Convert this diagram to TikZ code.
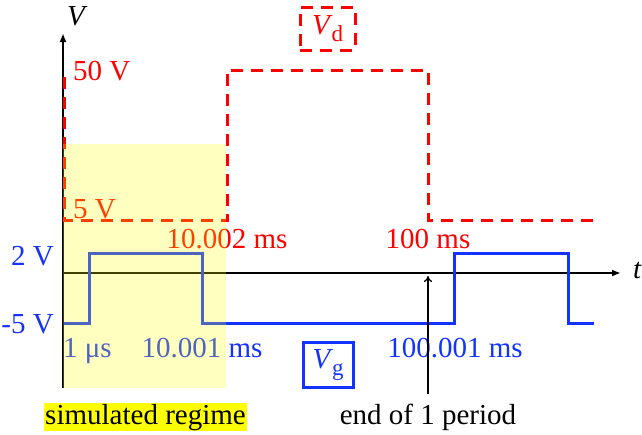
\documentclass[tikz,border=0pt]{standalone}
\usepackage{fontspec}
\setmainfont{Liberation Serif}
\usetikzlibrary{arrows.meta}
\definecolor{vred}{RGB}{255,0,0}
\definecolor{vblue}{RGB}{20,50,255}
\definecolor{hl}{RGB}{255,255,0}
\newcommand{\subtx}[1]{\raisebox{-7pt}{\fontsize{23}{24}\selectfont #1}}
\begin{document}
\begin{tikzpicture}[x=1pt,y=-1pt,
  font=\fontsize{29}{32}\selectfont,
  lbl/.style={inner sep=0pt, anchor=base},
  axisline/.style={line width=2pt, black, -{Latex[length=9pt,width=7pt]}},
  vdline/.style={line width=3pt, vred, dash pattern=on 12pt off 8pt},
  vgline/.style={line width=3pt, vblue},
  redlbl/.style={lbl, text=vred},
  bluelbl/.style={lbl, text=vblue}]
\useasboundingbox (0,0) rectangle (642,434);

% axes
\coordinate (o) at (63,273);
\coordinate (ybot) at (63,388);
\coordinate (ytop) at (63,33);
\coordinate (xend) at (621,273);
\draw[axisline] (ybot) -- (ytop);
\draw[axisline] (o) -- (xend);
\node[lbl, anchor=base west] (Vax) at (67,25) {\textit{V}};
\node[lbl, anchor=base west] (tax) at (633,278) {\textit{t}};

% Vd waveform
\draw[vdline] (64,77) -- (64,220) -- (227,220) -- (227,70) -- (428,70) -- (428,220) -- (593,220);
% Vg waveform
\draw[vgline] (64,323) -- (89,323) -- (89,253) -- (202,253) -- (202,323) -- (454,323) -- (454,253) -- (568,253) -- (568,323) -- (594,323);

% labels
\node[redlbl, anchor=base west] (l50) at (73,80) {50 V};
\node[redlbl, anchor=base west] (l5) at (73,218) {5 V};
\node[redlbl] (l10002) at (227,248) {10.002 ms};
\node[redlbl] (l100) at (428,248) {100 ms};
\node[bluelbl, anchor=base east] (l2) at (54,265) {2 V};
\node[bluelbl, anchor=base east] (lm5) at (54,333) {-5 V};
\node[bluelbl, anchor=base west] (l1us) at (63,357) {1 μs};
\node[bluelbl] (l10001) at (202,357) {10.001 ms};
\node[bluelbl] (l100001) at (455,357) {100.001 ms};

% legend boxes
\node[draw=vred, line width=3pt, dash pattern=on 12pt off 8pt, minimum width=55pt, minimum height=43pt, inner sep=0pt, text=vred] (vd) at (327.5,28.5) {\raisebox{3pt}{\textit{V}\kern-1pt\subtx{d}}};
\node[draw=vblue, line width=3pt, minimum width=50pt, minimum height=45pt, inner sep=0pt, text=vblue] (vg) at (328,364.5) {\raisebox{3pt}{\textit{V}\kern-1pt\subtx{g}}};

% simulated region overlay
\fill[hl, opacity=0.25] (63,144) rectangle (226,388);

\node[lbl, fill=hl, inner sep=1pt] (sim) at (145.5,424) {simulated regime};
\node[lbl] (eop) at (428,424) {end of 1 period};
\coordinate (eopstart) at (428,394);
\coordinate (eoptip) at (428,276);
\draw[line width=1.3pt, -{To[length=6pt,width=8pt]}] (eopstart) -- (eoptip);
\end{tikzpicture}
\end{document}
